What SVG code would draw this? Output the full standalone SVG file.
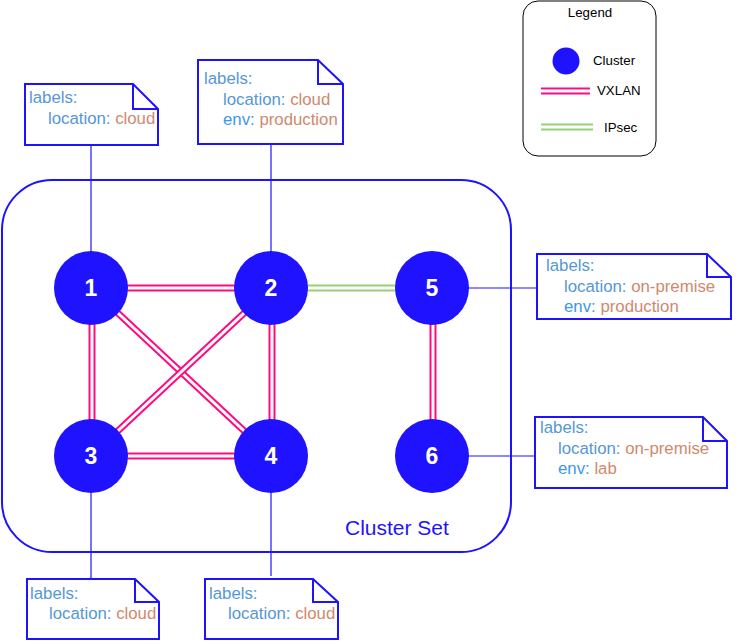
<svg xmlns="http://www.w3.org/2000/svg" width="746" height="641" viewBox="0 0 746 641">
<style>
text{font-family:"Liberation Sans",Arial,Helvetica,sans-serif}
.note{fill:#fff;stroke:#1F12FF;stroke-width:2;stroke-linejoin:miter}
.fold{fill:none;stroke:#1F12FF;stroke-width:2}
.tie{stroke:#1F12FF;stroke-width:1.2;fill:none}
.vx{stroke:#FF0A80;stroke-width:7;fill:none}
.ip{stroke:#97D077;stroke-width:7;fill:none}
.gap{stroke:#fff;stroke-width:3;fill:none}
.t{font-size:16.8px}
.k{fill:#5597D6}
.e{fill:#3D98EC}
.v{fill:#D0896E}
.node{fill:#1F12FF}
.num{fill:#fff;font-size:23px;font-weight:bold;text-anchor:middle}
.lg{font-size:13.3px;fill:#000}
</style>
<rect id="clusterset" x="2" y="180" width="509" height="372" rx="50" ry="50" fill="#fff" stroke="#1F12FF" stroke-width="2"/>
<text x="345" y="535" font-size="21" fill="#1F12FF">Cluster Set</text>

<g id="connectors">
<line class="tie" x1="91" y1="145" x2="91" y2="252"/>
<line class="tie" x1="271" y1="144" x2="271" y2="252"/>
<line class="tie" x1="468" y1="288" x2="537" y2="288"/>
<line class="tie" x1="468" y1="456" x2="535" y2="456"/>
<line class="tie" x1="91" y1="492" x2="91" y2="579"/>
<line class="tie" x1="271" y1="492" x2="271" y2="576"/>
<line class="vx" x1="91" y1="288" x2="271" y2="288"/><line class="gap" x1="91" y1="288" x2="271" y2="288"/>
<line class="vx" x1="91" y1="456" x2="271" y2="456"/><line class="gap" x1="91" y1="456" x2="271" y2="456"/>
<line class="vx" x1="92" y1="288" x2="92" y2="456"/><line class="gap" x1="92" y1="288" x2="92" y2="456"/>
<line class="vx" x1="272" y1="288" x2="272" y2="456"/><line class="gap" x1="272" y1="288" x2="272" y2="456"/>
<line class="vx" x1="91" y1="288" x2="271" y2="456"/><line class="gap" x1="91" y1="288" x2="271" y2="456"/>
<line class="vx" x1="271" y1="288" x2="91" y2="456"/><line class="gap" x1="271" y1="288" x2="91" y2="456"/>
<line class="ip" x1="271" y1="288" x2="432" y2="288"/><line class="gap" x1="271" y1="288" x2="432" y2="288"/>
<line class="vx" x1="433" y1="288" x2="433" y2="456"/><line class="gap" x1="433" y1="288" x2="433" y2="456"/>
</g>

<g id="node1"><circle class="node" cx="91" cy="288" r="37"/><text class="num" x="91" y="296">1</text></g>
<g id="node2"><circle class="node" cx="271" cy="288" r="37"/><text class="num" x="271" y="296">2</text></g>
<g id="node3"><circle class="node" cx="91" cy="456" r="37"/><text class="num" x="91" y="464">3</text></g>
<g id="node4"><circle class="node" cx="271" cy="456" r="37"/><text class="num" x="271" y="464">4</text></g>
<g id="node5"><circle class="node" cx="432" cy="288" r="37"/><text class="num" x="432" y="296">5</text></g>
<g id="node6"><circle class="node" cx="432" cy="456" r="37"/><text class="num" x="432" y="464">6</text></g>

<g id="note1">
<path class="note" d="M25,84 H133 L158,109 V145 H25 Z"/><path class="fold" d="M133,84 V109 H158"/>
<text class="t" x="29" y="103"><tspan class="k">labels:</tspan></text>
<text class="t" x="48" y="124"><tspan class="k">location: </tspan><tspan class="v">cloud</tspan></text>
</g>
<g id="note2">
<path class="note" d="M198,60 H318 L343,84 V144 H198 Z"/><path class="fold" d="M318,60 V84 H343"/>
<text class="t" x="204" y="84"><tspan class="k">labels:</tspan></text>
<text class="t" x="223" y="105"><tspan class="k">location: </tspan><tspan class="v">cloud</tspan></text>
<text class="t" x="223" y="125"><tspan class="e">env: </tspan><tspan class="v">production</tspan></text>
</g>
<g id="note5">
<path class="note" d="M537,254 H707 L731,277 V319 H537 Z"/><path class="fold" d="M707,254 V277 H731"/>
<text class="t" x="546" y="271"><tspan class="k">labels:</tspan></text>
<text class="t" x="564" y="292"><tspan class="k">location: </tspan><tspan class="v">on-premise</tspan></text>
<text class="t" x="564" y="312"><tspan class="e">env: </tspan><tspan class="v">production</tspan></text>
</g>
<g id="note6">
<path class="note" d="M535,417 H703 L727,441 V488 H535 Z"/><path class="fold" d="M703,417 V441 H727"/>
<text class="t" x="540" y="433"><tspan class="k">labels:</tspan></text>
<text class="t" x="558" y="454"><tspan class="k">location: </tspan><tspan class="v">on-premise</tspan></text>
<text class="t" x="558" y="474"><tspan class="e">env: </tspan><tspan class="v">lab</tspan></text>
</g>
<g id="note3">
<path class="note" d="M27,579 H135 L159,602 V639 H27 Z"/><path class="fold" d="M135,579 V602 H159"/>
<text class="t" x="30" y="599"><tspan class="k">labels:</tspan></text>
<text class="t" x="49" y="619"><tspan class="k">location: </tspan><tspan class="v">cloud</tspan></text>
</g>
<g id="note4">
<path class="note" d="M205,579 H313 L338,602 V639 H205 Z"/><path class="fold" d="M313,579 V602 H338"/>
<text class="t" x="209" y="599"><tspan class="k">labels:</tspan></text>
<text class="t" x="228" y="619"><tspan class="k">location: </tspan><tspan class="v">cloud</tspan></text>
</g>

<g id="legend">
<rect x="523" y="1" width="133" height="155" rx="15" ry="15" fill="#fff" stroke="#000" stroke-width="1"/>
<text class="lg" x="590" y="17" text-anchor="middle">Legend</text>
<circle class="node" cx="566" cy="61" r="13.5"/>
<text class="lg" x="593" y="65">Cluster</text>
<line class="vx" x1="541" y1="91" x2="590" y2="91"/><line class="gap" x1="541" y1="91" x2="590" y2="91"/>
<text class="lg" x="597" y="95">VXLAN</text>
<line class="ip" x1="541" y1="127" x2="593" y2="127"/><line class="gap" x1="541" y1="127" x2="593" y2="127"/>
<text class="lg" x="604" y="132">IPsec</text>
</g>
</svg>
